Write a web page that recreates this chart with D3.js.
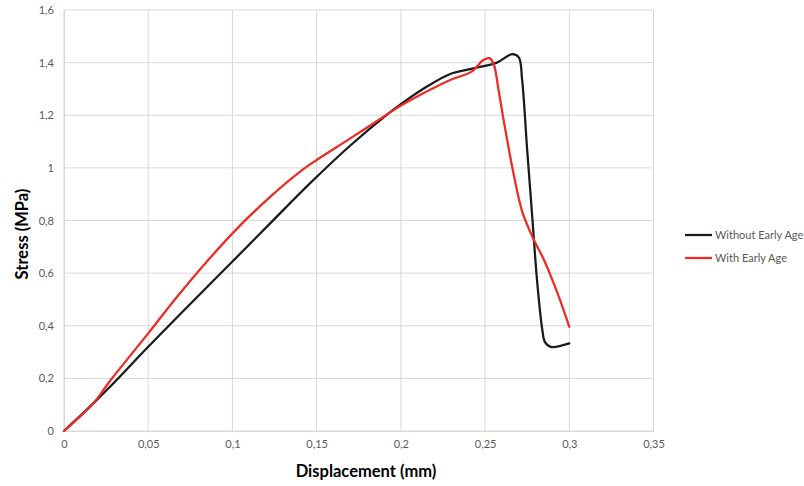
<!DOCTYPE html>
<html>
<head>
<meta charset="utf-8">
<script src="https://cdn.jsdelivr.net/npm/d3@7"></script>
<style>
  html, body { margin: 0; padding: 0; background: #fff; }
  svg { display: block; font-family: Lato, "Open Sans", "Liberation Sans", sans-serif; }
</style>
</head>
<body>
<svg id="chart" width="804" height="486"></svg>
<script>
// Stress–displacement curves
const seriesNames = ["Without Early Age", "With Early Age"];
const seriesColors = ["#1a1a1a", "#ee2a24"];

const withoutDisp = [0, 0.0174, 0.0273, 0.05, 0.0685, 0.1, 0.1224, 0.146, 0.17, 0.1927, 0.2006, 0.2155, 0.2293, 0.243, 0.257, 0.266, 0.270, 0.272, 0.275, 0.278, 0.281, 0.284, 0.2855, 0.289, 0.300];
const withoutStress = [0, 0.105, 0.168, 0.320, 0.441, 0.644, 0.789, 0.941, 1.085, 1.207, 1.245, 1.309, 1.357, 1.378, 1.40, 1.432, 1.42, 1.334, 1.068, 0.815, 0.562, 0.384, 0.339, 0.32, 0.333];

const withDisp = [0, 0.0174, 0.0273, 0.05, 0.0685, 0.1, 0.1224, 0.1402, 0.15, 0.17, 0.1927, 0.2006, 0.2293, 0.242, 0.249, 0.2525, 0.255, 0.258, 0.261, 0.264, 0.267, 0.272, 0.279, 0.285, 0.293, 0.300];
const withStress = [0, 0.105, 0.19, 0.371, 0.521, 0.751, 0.890, 0.986, 1.030, 1.112, 1.207, 1.239, 1.334, 1.366, 1.41, 1.417, 1.397, 1.296, 1.182, 1.075, 0.975, 0.835, 0.726, 0.65, 0.524, 0.396];

const xTicks = [0, 0.05, 0.1, 0.15, 0.2, 0.25, 0.3, 0.35];
const yTicks = [0, 0.2, 0.4, 0.6, 0.8, 1, 1.2, 1.4, 1.6];

const fmt = v => String(+v.toFixed(2)).replace(".", ",");

const svg = d3.select("#chart");
const plotL = 64, plotR = 653.5, plotT = 10, plotB = 431;

const x = d3.scaleLinear().domain([0, 0.35]).range([plotL, plotR]);
const y = d3.scaleLinear().domain([0, 1.6]).range([plotB, plotT]);

const grid = "#d9d9d9", textCol = "#595959";

// gridlines
svg.append("g").selectAll("line").data(xTicks).join("line")
  .attr("x1", d => x(d)).attr("x2", d => x(d))
  .attr("y1", plotT).attr("y2", plotB)
  .attr("stroke", grid).attr("stroke-width", 1);
svg.append("g").selectAll("line").data(yTicks).join("line")
  .attr("x1", plotL).attr("x2", plotR)
  .attr("y1", d => y(d)).attr("y2", d => y(d))
  .attr("stroke", grid).attr("stroke-width", 1);

// axes (labels only, lines drawn as grid)
const xAxis = svg.append("g").attr("transform", `translate(0,${plotB})`)
  .call(d3.axisBottom(x).tickValues(xTicks).tickFormat(fmt).tickSize(0).tickPadding(9));
const yAxis = svg.append("g").attr("transform", `translate(${plotL},0)`)
  .call(d3.axisLeft(y).tickValues(yTicks).tickFormat(fmt).tickSize(0).tickPadding(10));
[xAxis, yAxis].forEach(a => {
  a.select(".domain").attr("stroke", grid);
  a.selectAll("text").attr("fill", textCol).style("font-size", "11px")
    .style("font-family", "Lato, 'Open Sans', sans-serif");
});

// curves
const line = d3.line().x(d => x(d[0])).y(d => y(d[1])).curve(d3.curveCatmullRom.alpha(0.5));
const series = [
  d3.zip(withoutDisp, withoutStress),
  d3.zip(withDisp, withStress)
];
series.forEach((pts, i) => {
  svg.append("path").datum(pts)
    .attr("d", line)
    .attr("fill", "none")
    .attr("stroke", seriesColors[i])
    .attr("stroke-width", 2.25)
    .attr("stroke-linejoin", "round")
    .attr("stroke-linecap", "round");
});

// axis titles
const titleSize = "16.5px";
svg.append("text").attr("x", 366).attr("y", 477).attr("text-anchor", "middle")
  .style("font-size", titleSize).style("font-weight", "bold").attr("fill", "#000")
  .text("Displacement (mm)");
svg.append("text").attr("transform", "translate(28,234) rotate(-90)").attr("text-anchor", "middle")
  .style("font-size", titleSize).style("font-weight", "bold").attr("fill", "#000")
  .text("Stress (MPa)");

// legend
const legend = svg.append("g").attr("transform", "translate(685,235)");
seriesNames.forEach((name, i) => {
  const g = legend.append("g").attr("transform", `translate(0,${i * 23})`);
  g.append("line").attr("x1", 0).attr("x2", 27).attr("y1", 0).attr("y2", 0)
    .attr("stroke", seriesColors[i]).attr("stroke-width", 2.25);
  g.append("text").attr("x", 30).attr("y", 4).attr("fill", textCol)
    .style("font-size", "11px").text(name);
});
</script>
</body>
</html>
